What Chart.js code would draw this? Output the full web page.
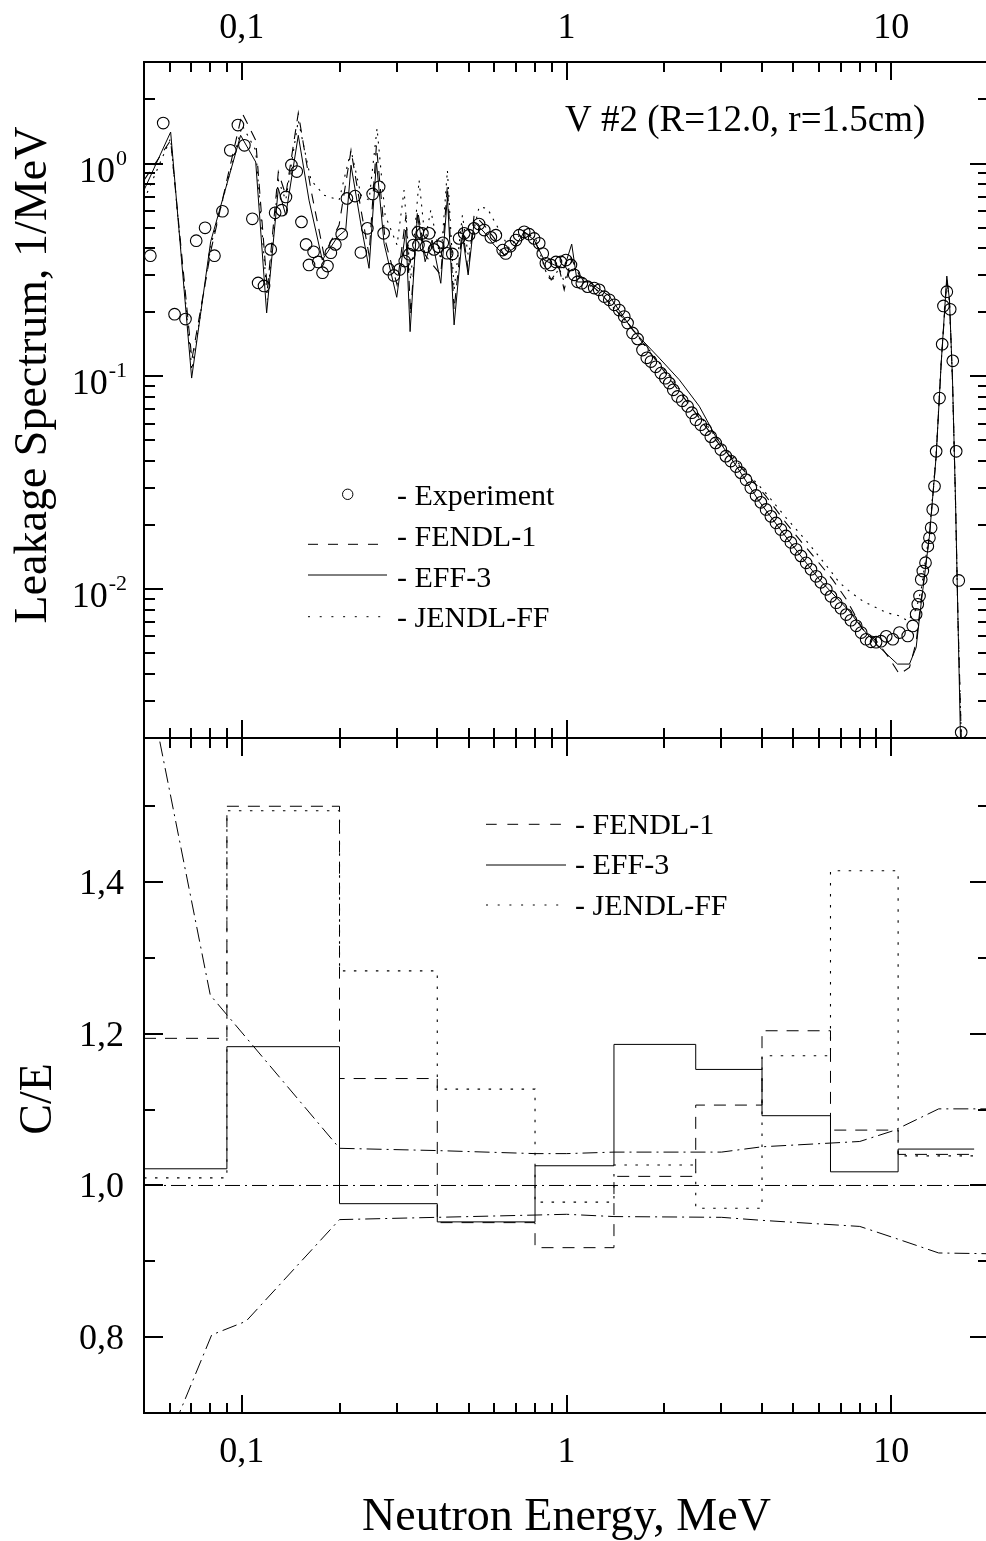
<!DOCTYPE html>
<html><head><meta charset="utf-8">
<script src="https://cdn.jsdelivr.net/npm/chart.js@4.4.1/dist/chart.umd.min.js"></script>
<style>
html,body{margin:0;padding:0;background:#fff;overflow:hidden;width:986px;height:1541px;}
#topChart{position:absolute;left:0;top:0;}
#botChart{position:absolute;left:0;top:700px;}
</style></head><body>
<canvas id="topChart" width="995" height="740" style="width:995px;height:740px"></canvas>
<canvas id="botChart" width="995" height="841" style="width:995px;height:841px"></canvas>
<script>
// ---------------- DATA ----------------
// Experiment (open circles), energy in MeV, leakage spectrum in 1/MeV
const expEnergy = [
0.0523,0.0573,0.0621,0.0671,0.0724,0.0771,0.0824,0.0872,0.0922,0.0973,
0.1019,0.1078,0.1123,0.1171,0.1228,0.1267,0.1327,0.1368,0.1422,0.1477,
0.1527,0.1578,0.1611,0.1664,0.1720,0.1773,0.1836,0.1881,0.1942,0.2031,
0.2108,0.2233,0.2327,0.2437,0.2530,0.2649,0.2735,0.2834,0.2941,0.3062,
0.3176,0.3280,0.3376,0.3487,0.350,0.360,0.369,0.3775,0.391,0.403,
0.416,0.429,0.445,0.467,0.484,0.501,0.519,0.538,0.558,0.585,
0.606,0.636,0.650,0.671,0.699,0.715,0.741,0.767,0.795,0.824,
0.845,0.864,0.895,0.928,0.961,0.996,1.032,1.056,1.081,1.115,
1.161,1.217,1.261,1.307,1.354,1.403,1.453,1.506,1.542,1.597,
1.655,1.714,1.767,1.820,1.883,1.952,2.015,2.073,2.132,2.198,
2.273,2.360,2.431,2.503,2.592,2.685,2.782,2.880,2.987,3.096,
3.206,3.329,3.442,3.572,3.695,3.834,3.967,4.117,4.259,4.417,
4.572,4.740,4.909,5.091,5.27,5.47,5.66,5.87,6.07,6.31,
6.52,6.77,7.00,7.27,7.51,7.80,8.08,8.37,8.66,8.98,
9.30,9.65,10.11,10.60,11.24,11.65,11.93,12.07,12.22,12.37,
12.51,12.75,12.96,13.11,13.27,13.42,13.59,13.75,14.08,14.35,
14.48,14.83,15.19,15.47,15.85,16.14,16.42];
const expFlux = [
0.369,1.55,0.196,0.186,0.434,0.499,0.369,0.597,1.154,1.517,
1.218,0.550,0.275,0.266,0.395,0.587,0.604,0.697,0.985,0.917,
0.532,0.417,0.334,0.385,0.345,0.307,0.330,0.381,0.417,0.466,
0.686,0.703,0.382,0.496,0.720,0.777,0.470,0.319,0.298,0.318,
0.348,0.375,0.414,0.475,0.414,0.470,0.407,0.470,0.395,0.407,
0.424,0.379,0.376,0.445,0.470,0.461,0.496,0.520,0.487,0.450,
0.461,0.392,0.378,0.409,0.437,0.461,0.478,0.466,0.445,0.422,
0.378,0.340,0.334,0.345,0.345,0.352,0.334,0.300,0.278,0.274,
0.264,0.260,0.255,0.237,0.229,0.217,0.205,0.191,0.178,0.160,
0.150,0.133,0.1223,0.1174,0.1109,0.1036,0.0980,0.0930,0.0865,0.0805,
0.0768,0.0723,0.0675,0.0626,0.0593,0.0562,0.0521,0.0487,0.0453,0.0422,
0.0400,0.0377,0.0353,0.0327,0.0300,0.0276,0.0256,0.0237,0.0220,0.0205,
0.0191,0.0178,0.0166,0.0154,0.01434,0.0133,0.0124,0.0115,0.01077,0.00999,
0.00926,0.00864,0.00814,0.00760,0.00715,0.00673,0.00626,0.00582,0.00566,0.00564,
0.00570,0.00601,0.00582,0.00626,0.00603,0.00672,0.00763,0.00850,0.00929,0.01112,
0.01217,0.01333,0.01594,0.01745,0.01944,0.02369,0.03047,0.04445,0.0791,0.1417,
0.2143,0.2500,0.2068,0.1183,0.04445,0.01100,0.002126];

// EFF-3 (solid)
const eff3Energy = [
0.05,0.0604,0.0701,0.0802,0.0992,0.1104,0.1193,0.1296,0.1366,0.1493,
0.1611,0.1770,0.1969,0.2090,0.2170,0.2330,0.2466,0.2598,0.2743,0.3001,
0.3199,0.3299,0.3474,0.3670,0.3856,0.4101,0.4298,0.4507,0.4781,0.4979,
0.5194,0.5576,0.5986,0.6427,0.6899,0.7406,0.7951,0.8535,0.9164,0.9838,
1.0376,1.079,1.175,1.354,1.597,1.931,2.225,2.564,2.880,3.328,
3.925,4.857,6.008,7.433,8.17,9.196,10.45,11.38,11.93,12.37,
13.11,13.75,14.25,14.83,15.11,15.44,15.77,16.05,16.34,16.5];
const eff3Flux = [
0.750,1.406,0.0982,0.429,1.357,1.017,0.1987,0.7635,0.5724,1.357,
0.673,0.352,0.451,0.487,0.982,0.514,0.322,1.017,0.4216,0.2353,
0.487,0.1623,0.5724,0.3457,0.437,0.2738,0.697,0.1745,0.4612,0.2995,
0.5323,0.4764,0.414,0.3716,0.4008,0.4764,0.437,0.352,0.334,0.323,
0.4183,0.2777,0.2777,0.2386,0.1654,0.1219,0.0964,0.0724,0.0522,0.0381,
0.0258,0.01677,0.0111,0.00788,0.00649,0.00534,0.00445,0.00445,0.00532,0.00865,
0.01776,0.0421,0.1154,0.296,0.2286,0.0964,0.0264,0.00723,0.00198,0.0016];

// FENDL-1 (dashed)
const fendlEnergy = [
0.05,0.0604,0.0702,0.0804,0.1003,0.1104,0.1199,0.1296,0.1366,0.1493,
0.1634,0.1792,0.1994,0.2170,0.2330,0.2466,0.2598,0.2763,0.3008,0.3206,
0.3311,0.3478,0.3670,0.4101,0.4298,0.4507,0.4781,0.4979,0.5194,0.5576,
0.5986,0.6427,0.6899,0.7406,0.7951,0.8535,0.897,0.9495,0.9838,1.034,
1.094,1.261,1.561,1.931,2.388,2.955,3.572,4.117,4.740,5.213,
5.87,6.60,7.27,8.17,9.09,9.75,10.60,11.38,11.93,12.37,
13.11,13.75,14.25,14.83,15.11,15.44,15.77,16.05,16.5];
const fendlFlux = [
0.835,1.286,0.120,0.392,1.727,1.286,0.255,0.913,0.710,1.727,
0.750,0.3716,0.514,1.154,0.604,0.3716,1.218,0.437,0.2689,0.5724,
0.1944,0.604,0.3716,0.2995,0.791,0.205,0.497,0.316,0.5724,0.514,
0.4466,0.3716,0.4008,0.4764,0.4466,0.334,0.284,0.323,0.255,0.360,
0.300,0.2492,0.1746,0.1133,0.0736,0.0478,0.0352,0.0273,0.0205,0.01714,
0.0138,0.0111,0.00897,0.00649,0.00562,0.00486,0.00399,0.00429,0.00562,0.00897,
0.01776,0.0421,0.1154,0.284,0.2286,0.0964,0.0264,0.00723,0.0016];

// JENDL-FF (dotted)
const jendlEnergy = [
0.05,0.0604,0.0702,0.0804,0.1003,0.1104,0.1199,0.1296,0.1366,0.1493,
0.1634,0.1792,0.1994,0.2170,0.2330,0.2466,0.2610,0.2763,0.3008,0.3161,
0.3311,0.3516,0.3670,0.3820,0.4101,0.4298,0.4507,0.4781,0.4979,0.5382,
0.5708,0.6130,0.6659,0.7406,0.8064,0.8598,0.897,0.9495,0.9838,1.034,
1.094,1.261,1.561,1.931,2.388,2.955,3.572,4.117,4.740,5.597,
6.450,6.924,7.52,8.17,8.77,9.65,10.60,11.24,11.93,12.37,
13.11,13.75,14.25,14.83,15.11,15.44,15.77,16.05,16.5];
const jendlFlux = [
0.673,1.314,0.107,0.414,1.512,1.154,0.229,0.835,0.673,1.596,
0.835,0.710,0.673,1.154,0.710,0.673,1.464,0.5724,0.414,0.750,
0.284,0.835,0.437,0.604,0.352,0.930,0.255,0.5724,0.3716,0.626,
0.615,0.5043,0.4008,0.487,0.437,0.316,0.2777,0.323,0.2777,0.3445,
0.290,0.2492,0.1746,0.1158,0.0760,0.0494,0.0357,0.0282,0.0217,0.01623,
0.0124,0.01074,0.00964,0.00881,0.00834,0.00777,0.00749,0.00710,0.00805,0.00999,
0.01849,0.0429,0.117,0.284,0.2238,0.0943,0.0258,0.00707,0.0016];

// C/E group ratios (bottom panel), energy-group edges in MeV
const binEdges = [0.05,0.09,0.2,0.4,0.8,1.4,2.5,4,6.5,10.5,18];
const ceFendl = [1.194,1.500,1.141,0.951,0.918,1.012,1.106,1.204,1.073,1.041];
const ceEff3  = [1.022,1.183,0.976,0.952,1.026,1.186,1.153,1.092,1.018,1.048];
const ceJendl = [1.010,1.494,1.283,1.127,0.978,1.027,0.970,1.171,1.415,1.039];

// experimental uncertainty corridor (dash-dot)
const bandUpperEnergy = [0.05,0.08,0.2,0.4,0.8,1.0,1.4,3.0,4.0,8.0,10.2,14.0,20];
const bandUpper       = [1.69,1.251,1.049,1.046,1.042,1.042,1.044,1.044,1.051,1.058,1.0725,1.101,1.101];
const bandLowerEnergy = [0.05,0.0808,0.1031,0.2,0.4,0.8,1.0,1.4,3.0,4.0,8.0,10.2,14.0,20];
const bandLower       = [0.587,0.803,0.821,0.955,0.958,0.961,0.962,0.959,0.958,0.954,0.946,0.931,0.911,0.910];
const unityEnergy = [0.05,20];
const unityRatio  = [1.0,1.0];

// axis ticks and labels
const xMajorTicks = [0.1,1,10];
const xTickLabels = ['0,1','1','10'];
const xMinorTicks = [0.06,0.07,0.08,0.09,0.2,0.3,0.4,0.5,0.6,0.7,0.8,0.9,2,3,4,5,6,7,8,9];
const fluxMajorTicks = [0.01,0.1,1];
const fluxTickExponents = ['-2','-1','0'];
const fluxMinorTicks = [0.003,0.004,0.005,0.006,0.007,0.008,0.009,0.02,0.03,0.04,0.05,0.06,0.07,0.08,0.09,0.2,0.3,0.4,0.5,0.6,0.7,0.8,0.9,2];
const ceMajorTicks = [0.8,1.0,1.2,1.4];
const ceTickLabels = ['0,8','1,0','1,2','1,4'];
const ceMinorTicks = [0.9,1.1,1.3,1.5];

// ---------------- STYLE ----------------
const SERIF = '"Liberation Serif","Times New Roman",Times,serif';
const DASH_FENDL_TOP = [10,8];
const DOT_JENDL_TOP = [2,6];
const DASH_FENDL_BOT = [12,9];
const DOT_JENDL_BOT = [2.5,8.5];
const DASH_DOT = [15,5,2,5];
const MAJ = 18, MIN = 10;

const zip = (xs, ys) => xs.map((v,i)=>({x:v, y:ys[i]}));
const steps = (edges, vals) => edges.map((e,i)=>({x:e, y: vals[Math.min(i, vals.length-1)]}));

function seg(ctx,x1,y1,x2,y2){ctx.beginPath();ctx.moveTo(x1,y1);ctx.lineTo(x2,y2);ctx.stroke();}

function frameAndTicks(chart, yMajor, yMinor){
  const {ctx, chartArea:a, scales:{x,y}} = chart;
  ctx.save();
  ctx.strokeStyle='#000'; ctx.lineWidth=2; ctx.setLineDash([]); ctx.lineCap='butt';
  ctx.strokeRect(a.left, a.top, a.right-a.left, a.bottom-a.top);
  const xt = (vals, len) => vals.forEach(v=>{const p=Math.round(x.getPixelForValue(v)); seg(ctx,p,a.top,p,a.top+len); seg(ctx,p,a.bottom,p,a.bottom-len);});
  const yt = (vals, len) => vals.forEach(v=>{const p=Math.round(y.getPixelForValue(v)); seg(ctx,a.left,p,a.left+len,p); seg(ctx,a.right,p,a.right-len,p);});
  xt(xMajorTicks, MAJ); xt(xMinorTicks, MIN);
  yt(yMajor, MAJ+1); yt(yMinor, MIN+1);
  ctx.restore();
}

function legendLine(ctx, x1, x2, y, dash){
  ctx.save(); ctx.lineWidth=1; ctx.strokeStyle='#000'; ctx.setLineDash(dash); seg(ctx,x1,y,x2,y); ctx.restore();
}

function rotatedText(ctx, text, x, y, font){
  ctx.save(); ctx.translate(x,y); ctx.rotate(-Math.PI/2);
  ctx.font = font; ctx.textAlign='center'; ctx.textBaseline='alphabetic'; ctx.fillStyle='#000';
  ctx.fillText(text,0,0); ctx.restore();
}

const topDecor = {
  id:'topDecor',
  afterDraw(chart){
    const {ctx, chartArea:a, scales:{x,y}} = chart;
    frameAndTicks(chart, fluxMajorTicks, fluxMinorTicks);
    ctx.save(); ctx.fillStyle='#000'; ctx.textBaseline='alphabetic';
    // top x labels
    ctx.font = `36px ${SERIF}`; ctx.textAlign='center';
    xMajorTicks.forEach((v,i)=>ctx.fillText(xTickLabels[i], x.getPixelForValue(v), a.top-24));
    // y labels 10^n
    fluxMajorTicks.forEach((v,i)=>{
      const p = y.getPixelForValue(v);
      ctx.font = `22px ${SERIF}`; const ew = ctx.measureText(fluxTickExponents[i]).width;
      ctx.font = `36px ${SERIF}`; const bw = ctx.measureText('10').width;
      const right = a.left - 17;
      ctx.textAlign='left';
      ctx.fillText('10', right-ew-1-bw, p+18);
      ctx.font = `22px ${SERIF}`;
      ctx.fillText(fluxTickExponents[i], right-ew, p+1);
    });
    // annotation
    ctx.font = `37px ${SERIF}`; ctx.textAlign='left';
    ctx.fillText('V #2 (R=12.0, r=1.5cm)', 565, 131);
    // legend
    ctx.font = `30px ${SERIF}`;
    ctx.save(); ctx.lineWidth=1; ctx.beginPath(); ctx.arc(347.7,494.3,5.2,0,2*Math.PI); ctx.stroke(); ctx.restore();
    ctx.fillText('- Experiment', 397, 505);
    legendLine(ctx,308,387,544.3,[10,10]);
    ctx.fillText('- FENDL-1', 397, 545.7);
    legendLine(ctx,308,387,575,[]);
    ctx.fillText('- EFF-3', 397, 586.7);
    legendLine(ctx,308,389,616.7,[2,9.7]);
    ctx.fillText('- JENDL-FF', 397, 626.7);
    ctx.restore();
    rotatedText(ctx, 'Leakage Spectrum, 1/MeV', 45.5, 375, `46px ${SERIF}`);
  }
};

const botDecor = {
  id:'botDecor',
  afterDraw(chart){
    const {ctx, chartArea:a, scales:{x,y}} = chart;
    frameAndTicks(chart, ceMajorTicks, ceMinorTicks);
    ctx.save(); ctx.fillStyle='#000'; ctx.textBaseline='alphabetic';
    ctx.font = `36px ${SERIF}`; ctx.textAlign='center';
    xMajorTicks.forEach((v,i)=>ctx.fillText(xTickLabels[i], x.getPixelForValue(v), a.bottom+49));
    ctx.textAlign='right';
    ceMajorTicks.forEach((v,i)=>ctx.fillText(ceTickLabels[i], a.left-20, y.getPixelForValue(v)+12));
    // x title
    ctx.font = `46px ${SERIF}`; ctx.textAlign='center';
    ctx.fillText('Neutron Energy, MeV', (a.left+a.right)/2, 830);
    // legend
    ctx.font = `30px ${SERIF}`; ctx.textAlign='left';
    legendLine(ctx,486,562,124.3,[10.7,10.7]);
    ctx.fillText('- FENDL-1', 575, 134.3);
    legendLine(ctx,486,566,165,[]);
    ctx.fillText('- EFF-3', 575, 174);
    legendLine(ctx,486,565,205,[2,9.7]);
    ctx.fillText('- JENDL-FF', 575, 215);
    ctx.restore();
    rotatedText(ctx, 'C/E', 51, 399, `46px ${SERIF}`);
  }
};

const commonOpts = (yScale, pad) => ({
  responsive:false, animation:false, devicePixelRatio:1,
  layout:{padding:pad, autoPadding:false},
  plugins:{legend:{display:false}, tooltip:{enabled:false}},
  scales:{
    x:{type:'logarithmic', min:0.05, max:20, display:false},
    y:yScale
  }
});

const lineDs = (label, data, dash, width) => ({
  label, data, borderColor:'#000', backgroundColor:'transparent', borderWidth:width||1,
  borderDash:dash, pointRadius:0, tension:0, fill:false
});

new Chart(document.getElementById('topChart'), {
  type:'line',
  data:{datasets:[
    lineDs('EFF-3', zip(eff3Energy, eff3Flux), [], 1),
    lineDs('FENDL-1', zip(fendlEnergy, fendlFlux), DASH_FENDL_TOP, 1.1),
    lineDs('JENDL-FF', zip(jendlEnergy, jendlFlux), DOT_JENDL_TOP, 1.1),
    {label:'Experiment', data: zip(expEnergy, expFlux), showLine:false,
     pointStyle:'circle', pointRadius:5.8, pointBorderWidth:1.1, pointBorderColor:'#000',
     pointBackgroundColor:'transparent', borderColor:'#000', backgroundColor:'transparent'}
  ]},
  options: commonOpts({type:'logarithmic', min:0.002, max:3, display:false}, {left:144, right:6, top:62, bottom:2}),
  plugins:[topDecor]
});

new Chart(document.getElementById('botChart'), {
  type:'line',
  data:{datasets:[
    lineDs('unity', zip(unityEnergy, unityRatio), DASH_DOT, 1),
    lineDs('upper', zip(bandUpperEnergy, bandUpper), DASH_DOT, 1),
    lineDs('lower', zip(bandLowerEnergy, bandLower), DASH_DOT, 1),
    Object.assign(lineDs('FENDL-1', steps(binEdges, ceFendl), DASH_FENDL_BOT, 1), {stepped:'before'}),
    Object.assign(lineDs('JENDL-FF', steps(binEdges, ceJendl), DOT_JENDL_BOT, 1.1), {stepped:'before'}),
    Object.assign(lineDs('EFF-3', steps(binEdges, ceEff3), [], 1), {stepped:'before'})
  ]},
  options: commonOpts({type:'linear', min:0.7, max:1.59, display:false}, {left:144, right:6, top:38, bottom:128}),
  plugins:[botDecor]
});
</script>
</body></html>
